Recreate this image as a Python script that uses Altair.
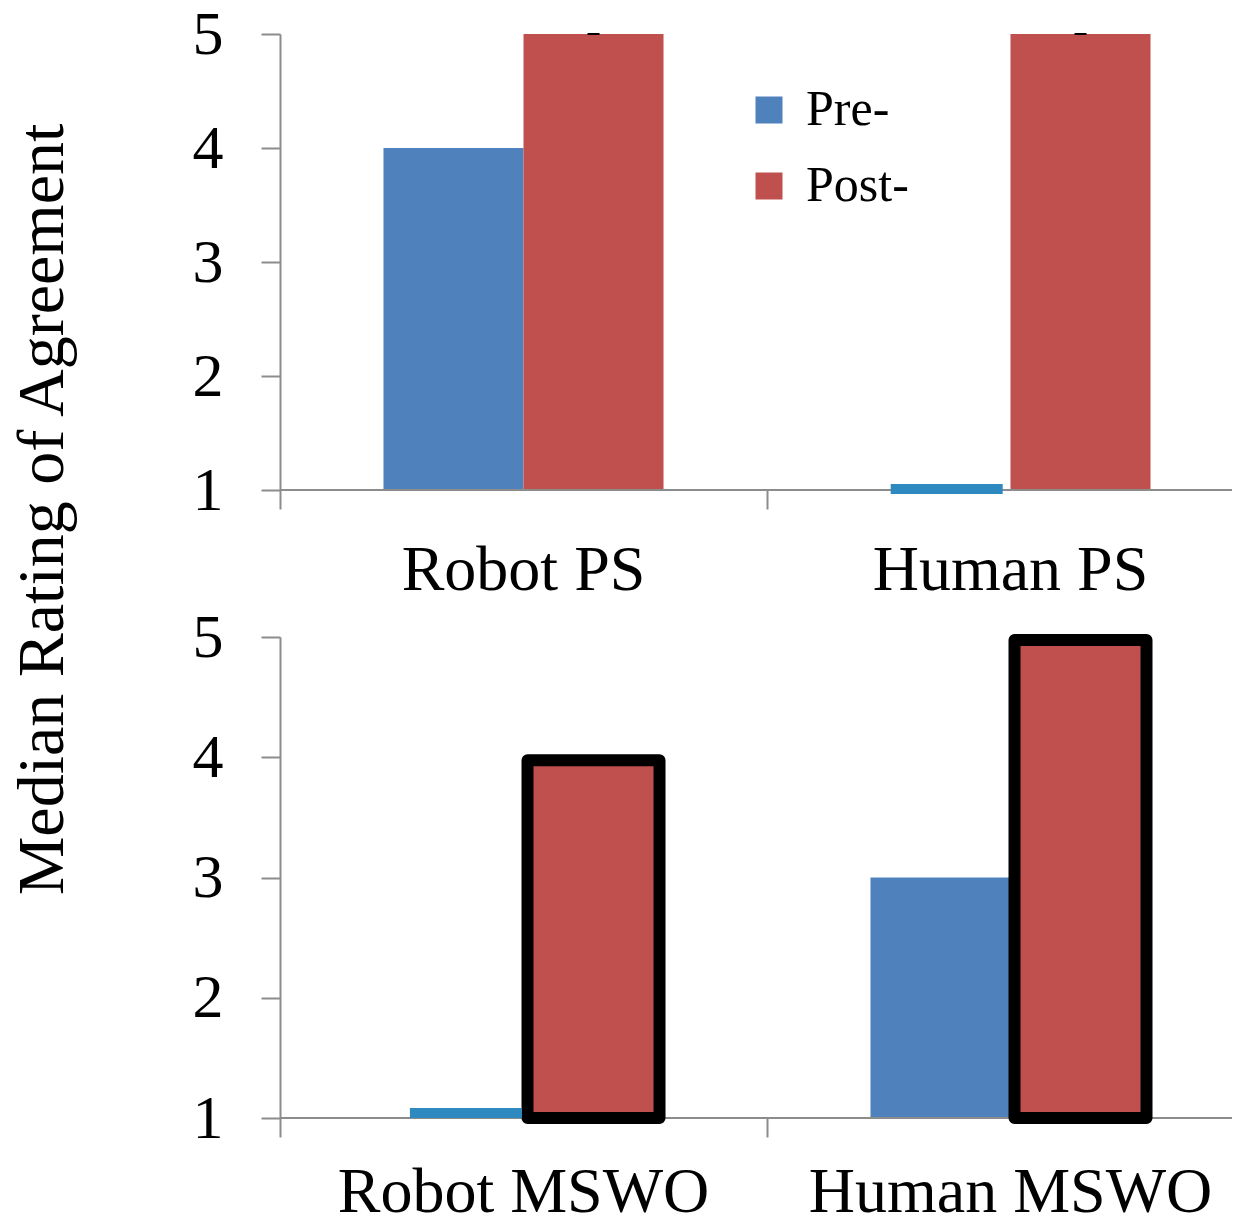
import altair as alt
import pandas as pd

top_categories = ["Robot PS", "Human PS"]
bottom_categories = ["Robot MSWO", "Human MSWO"]
phases = ["Pre-", "Post-"]
top_pre = [4, 1]
top_post = [5, 5]
bottom_pre = [1, 3]
bottom_post = [4, 5]
y_ticks = [1, 2, 3, 4, 5]
phase_colors = ["#4F81BD", "#C0504D"]
min_bar_color = "#2E89C0"

FONT = "Liberation Serif"
AX = "#8c8c8c"
VIEW_W = 954
BAND_RANGE = [0, 974]
NO_BORDER = alt.ViewBackground(strokeOpacity=0, strokeWidth=0)


def frame(cats, pre, post):
    rows = []
    for c, a, b in zip(cats, pre, post):
        rows.append({"category": c, "phase": "Pre-", "value": a})
        rows.append({"category": c, "phase": "Post-", "value": b})
    return pd.DataFrame(rows)


def panel(df, cats, height, label_pad, title, small_align, small_dy, kind):
    x = alt.X(
        "category:N", sort=cats,
        scale=alt.Scale(paddingInner=0, paddingOuter=0, range=BAND_RANGE),
        axis=alt.Axis(title=None, labelAngle=0, bandPosition=0, tickSize=19, domain=False,
                      labelPadding=label_pad, labelFontSize=64, labelBaseline="alphabetic",
                      labelLimit=0, labelFont=FONT, labelColor="black", tickColor=AX,
                      tickWidth=2, tickExtra=False),
    )
    ykw = dict(values=y_ticks, format="d", grid=False, tickSize=19, labelPadding=38,
               labelFontSize=62, labelFont=FONT, labelColor="black", domainColor=AX,
               tickColor=AX, domainWidth=2, tickWidth=2)
    if title:
        yaxis = alt.Axis(title=title, titleX=-218, titleY=475, titleAngle=270,
                         titleAlign="center", titleBaseline="alphabetic", titleFontSize=66,
                         titleFont=FONT, titleFontWeight="normal", titleColor="black", **ykw)
    else:
        yaxis = alt.Axis(title=None, **ykw)
    y = alt.Y("value:Q", scale=alt.Scale(domain=[1, 5], zero=False, nice=False), axis=yaxis)
    xo = alt.XOffset("phase:N", sort=phases,
                     scale=alt.Scale(domain=phases, paddingInner=0, paddingOuter=0.739))
    xo_small = alt.XOffset("phase:N", sort=phases,
                           scale=alt.Scale(domain=phases, paddingInner=0, paddingOuter=0.739,
                                           align=small_align))
    color = alt.Color(
        "phase:N", sort=phases,
        scale=alt.Scale(domain=phases, range=phase_colors),
        legend=alt.Legend(title=None, orient="none", legendX=464, legendY=51,
                          symbolType="square", symbolSize=729, symbolStrokeWidth=0,
                          symbolOpacity=1, labelFontSize=50, labelFont=FONT,
                          labelColor="black", labelOffset=12, rowPadding=26, padding=0),
    )
    base = alt.Chart(df).encode(x=x, xOffset=xo)
    baseline = alt.Chart(df).mark_rule(color=AX, strokeWidth=2).encode(
        y=alt.Y(datum=1, axis=yaxis))
    bars = base.transform_filter("datum.value > 1").mark_bar().encode(
        y=y, y2=alt.datum(1), color=color)
    small = alt.Chart(df).transform_filter("datum.value <= 1").mark_tick(
        color=min_bar_color, size=112, thickness=10, opacity=1,
        yOffset=small_dy).encode(x=x, xOffset=xo_small, y=y)
    if kind == "caps":
        extra = base.transform_filter("datum.phase == 'Post-'").mark_tick(
            color="black", size=12, thickness=2, opacity=1).encode(y=y)
    else:
        extra = base.transform_filter("datum.phase == 'Post-'").mark_bar(
            fillOpacity=0, stroke="black", strokeWidth=12, strokeJoin="round",
            width=132, yOffset=3).encode(y=y, y2=alt.datum(1))
    main = alt.layer(bars, baseline, extra)
    return alt.layer(main, small).resolve_scale(xOffset="independent").properties(
        width=VIEW_W, height=height, view=NO_BORDER)


top = panel(frame(top_categories, top_pre, top_post), top_categories, 456, 80,
            "Median Rating of Agreement", 0.53, -1, "caps")
bottom = panel(frame(bottom_categories, bottom_pre, bottom_post), bottom_categories, 481, 74,
               None, 0.56, -5, "highlight")

chart = alt.vconcat(top, bottom, spacing=147, bounds="flush").configure_view(
    strokeOpacity=0, strokeWidth=0).configure(
    font=FONT, padding={"left": 0, "top": -5, "right": -22, "bottom": -9})

chart.save("out.html", embed_options={"renderer": "svg", "actions": False})
